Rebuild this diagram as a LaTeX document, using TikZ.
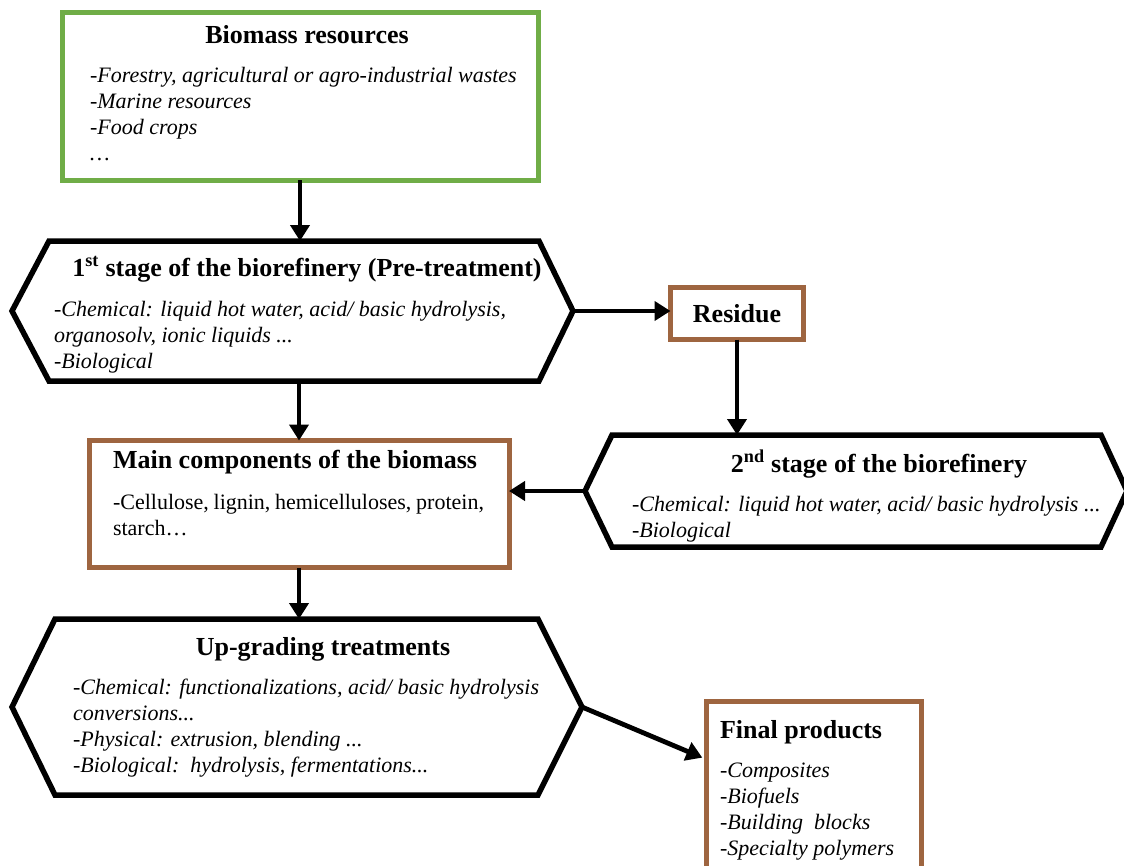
\documentclass[tikz,border=0pt]{standalone}
\usepackage{fontspec}
\setmainfont{Liberation Serif}
\usetikzlibrary{arrows.meta,calc}

\definecolor{leafgreen}{RGB}{112,173,71}
\definecolor{clay}{RGB}{158,101,64}

% multi-line text block whose reference point is the first baseline
\newcommand{\textblock}[2]{\parbox[t]{#1}{#2}}

\tikzset{
  every node/.style={inner sep=0pt, outer sep=0pt},
  panel/.style={rectangle, line width=5pt, fill=white},
  hexbody/.style={rectangle, draw=none},
  hexline/.style={draw=black, line width=5.5pt, fill=white},
  conn/.style={draw=black, line width=4.8pt, -{Triangle[length=16pt,width=19pt]}},
  head/.style={font=\fontsize{26}{30}\selectfont\bfseries},
  body/.style={font=\fontsize{22}{26}\selectfont},
}

\begin{document}
\begin{tikzpicture}[x=1pt, y=-1pt]
\useasboundingbox (0,0) rectangle (1124,865);

% ---------- biomass resources ----------
\node[panel, draw=leafgreen, minimum width=476pt, minimum height=168pt] (bio) at (300,96) {};
\node[head, anchor=base] (bioT) at (307,43) {Biomass resources};
\node[body, anchor=base west] (bioL) at (90,82) {\textblock{450pt}{\raggedright\itshape
  -Forestry, agricultural or agro-industrial wastes\\
  -Marine resources\\
  -Food crops\\
  …}};

% ---------- first stage (pre-treatment) ----------
\node[hexbody, minimum width=490pt, minimum height=140pt] (h1) at (294,311) {};
\draw[hexline] (h1.north west) -- (h1.north east)
  -- ($(h1.east)+(34,0)$) coordinate (h1e)
  -- (h1.south east) -- (h1.south west)
  -- ($(h1.west)+(-37,0)$) coordinate (h1w) -- cycle;
\node[head, anchor=base] (h1T) at (307,276) {1\textsuperscript{st} stage of the biorefinery (Pre-treatment)};
\node[body, anchor=base west] (h1L) at (54,316) {\textblock{480pt}{\raggedright\itshape
  -Chemical: liquid hot water, acid/ basic hydrolysis,\\
  organosolv, ionic liquids ...\\
  -Biological}};

% ---------- residue ----------
\node[panel, draw=clay, minimum width=133pt, minimum height=52pt, head] (res) at (737,313.5) {Residue};

% ---------- second stage ----------
\node[hexbody, minimum width=489pt, minimum height=112pt] (h2) at (856.5,491) {};
\draw[hexline] (h2.north west) -- (h2.north east)
  -- ($(h2.east)+(26,0)$) coordinate (h2e)
  -- (h2.south east) -- (h2.south west)
  -- ($(h2.west)+(-27,0)$) coordinate (h2w) -- cycle;
\node[head, anchor=base] (h2T) at (879,472) {2\textsuperscript{nd} stage of the biorefinery};
\node[body, anchor=base west] (h2L) at (632,511) {\textblock{480pt}{\raggedright\itshape
  -Chemical: liquid hot water, acid/ basic hydrolysis ...\\
  -Biological}};

% ---------- main components ----------
\node[panel, draw=clay, minimum width=420pt, minimum height=127pt] (mb) at (299,504) {};
\node[head, anchor=base west] (mbT) at (113,468) {Main components of the biomass};
\node[body, anchor=base west] (mbL) at (113,509) {\textblock{371pt}{
  -Cellulose, lignin, hemicelluloses, protein, starch…}};

% ---------- up-grading ----------
\node[hexbody, minimum width=483pt, minimum height=176pt] (h3) at (296.5,707) {};
\draw[hexline] (h3.north west) -- (h3.north east)
  -- ($(h3.east)+(44,0)$) coordinate (h3e)
  -- (h3.south east) -- (h3.south west)
  -- ($(h3.west)+(-43,0)$) coordinate (h3w) -- cycle;
\node[head, anchor=base] (h3T) at (323,655) {Up-grading treatments};
\node[body, anchor=base west] (h3L) at (73,694) {\textblock{480pt}{\raggedright\itshape
  -Chemical: functionalizations, acid/ basic hydrolysis\\
  conversions...\\
  -Physical: extrusion, blending ...\\
  -Biological:\ \ hydrolysis, fermentations...}};

% ---------- final products ----------
\node[panel, draw=clay, minimum width=215pt, minimum height=178pt] (fin) at (813.5,790) {};
\node[head, anchor=base west] (finT) at (720,738) {Final products};
\node[body, anchor=base west] (finL) at (720,777) {\textblock{200pt}{\raggedright\itshape
  -Composites\\
  -Biofuels\\
  -Building\ \ blocks\\
  -Specialty polymers}};

% ---------- connectors ----------
\draw[conn] (bio.south) -- (bio.south |- h1.north);
\draw[conn] (h1.south -| mb.north) -- (mb.north);
\draw[conn] (h1e) -- (h1e -| res.west);
\draw[conn] (res.south) -- (res.south |- h2.north);
\draw[conn] (h2w) -- (h2w -| mb.east);
\draw[conn] (mb.south) -- (mb.south |- h3.north);
\draw[conn, shorten >=4pt] (h3e) -- (fin.164);
\end{tikzpicture}
\end{document}
